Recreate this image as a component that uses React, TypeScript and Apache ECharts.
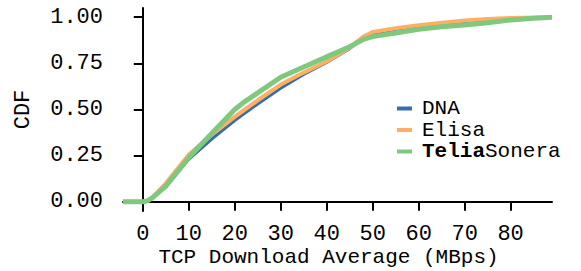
import React, { useEffect, useRef } from "react";
import * as echarts from "echarts";

const seriesNames = ["DNA", "Elisa", "TeliaSonera"];
const seriesColors = ["#386cb0", "#fdb063", "#7fc97f"];
const seriesWidths = [3, 4, 5];

const dnaData: [number, number][] = [
  [-4.3, 0], [0, 0], [1, 0.005], [2, 0.02], [5, 0.08], [10, 0.23], [15, 0.34], [20, 0.44],
  [25, 0.53], [30, 0.615], [35, 0.69], [40, 0.755], [45, 0.83], [48, 0.89], [50, 0.91],
  [55, 0.935], [60, 0.95], [65, 0.96], [70, 0.968], [75, 0.978], [80, 0.99], [85, 0.997], [89, 1],
];
const elisaData: [number, number][] = [
  [-4.3, 0], [0, 0], [1, 0.005], [2, 0.02], [5, 0.1], [10, 0.255], [15, 0.365], [20, 0.46],
  [25, 0.55], [30, 0.635], [35, 0.7], [40, 0.76], [45, 0.835], [48, 0.895], [50, 0.92],
  [55, 0.94], [60, 0.957], [65, 0.97], [70, 0.982], [75, 0.99], [80, 0.996], [89, 1],
];
const teliaData: [number, number][] = [
  [-4.3, 0], [0, 0], [1, 0.005], [2, 0.02], [5, 0.085], [10, 0.24], [15, 0.37], [20, 0.5],
  [22, 0.54], [25, 0.59], [30, 0.675], [35, 0.73], [40, 0.785], [45, 0.84], [48, 0.88],
  [50, 0.895], [55, 0.915], [60, 0.935], [65, 0.948], [70, 0.958], [75, 0.97], [80, 0.985],
  [85, 0.995], [89, 1],
];
const xTicks = [0, 10, 20, 30, 40, 50, 60, 70, 80];
const yTicks = [0, 0.25, 0.5, 0.75, 1];
const xName = "TCP Download Average (MBps)";
const yName = "CDF";

const FONT = "'Liberation Mono', 'DejaVu Sans Mono', monospace";
const FS = 22;
const LFS = 21;

export default function App() {
  const ref = useRef<HTMLDivElement>(null);
  useEffect(() => {
    if (!ref.current) return;
    const chart = echarts.init(ref.current, null, { renderer: "svg" });
    const allData = [dnaData, elisaData, teliaData];
    chart.setOption({
      animation: false,
      backgroundColor: "#ffffff",
      textStyle: { fontFamily: FONT },
      grid: { left: 123, right: 29, top: 8, bottom: 60, containLabel: false, outerBoundsMode: "none" },
      legend: {
        orient: "vertical",
        left: 392,
        top: 93,
        icon: "rect",
        itemWidth: 15,
        itemHeight: 4,
        itemGap: 0.5,
        data: seriesNames,
        formatter: (name: string) =>
          name === "TeliaSonera" ? "{b|Telia}{n|Sonera}" : "{n|" + name + "}",
        textStyle: {
          fontFamily: FONT,
          fontSize: LFS,
          color: "#000",
          lineHeight: 21,
          padding: [0, 0, 0, 5],
          rich: {
            n: { fontFamily: FONT, fontSize: LFS, lineHeight: 21, color: "#000" },
            b: { fontFamily: FONT, fontSize: LFS, lineHeight: 21, color: "#000", fontWeight: "bold" },
          },
        },
      },
      xAxis: {
        type: "value",
        min: -4.3,
        max: 89,
        name: xName,
        nameLocation: "middle",
        nameGap: 35.5,
        nameMoveOverlap: false,
        nameTextStyle: { fontFamily: FONT, fontSize: 21, color: "#000", padding: [0, 18, 0, 0] },
        axisLine: { show: true, lineStyle: { color: "#000", width: 2 } },
        axisTick: { show: true, length: 9, lineStyle: { color: "#000", width: 2 }, customValues: xTicks },
        axisLabel: {
          fontFamily: FONT, fontSize: FS, color: "#000", margin: 12,
          customValues: xTicks, formatter: (v: number) => String(v),
        },
        splitLine: { show: false },
      },
      yAxis: {
        type: "value",
        min: -0.05,
        max: 1.05,
        name: yName,
        nameLocation: "middle",
        nameGap: 89,
        nameRotate: 90,
        nameMoveOverlap: false,
        nameTextStyle: { fontFamily: FONT, fontSize: FS, color: "#000" },
        axisLine: { show: true, lineStyle: { color: "#000", width: 2 } },
        axisTick: { show: true, length: 9, lineStyle: { color: "#000", width: 2 }, customValues: yTicks },
        axisLabel: {
          fontFamily: FONT, fontSize: FS, color: "#000", margin: 20,
          customValues: yTicks, formatter: (v: number) => v.toFixed(2),
        },
        splitLine: { show: false },
      },
      series: seriesNames.map((n, i) => ({
        name: n,
        type: "line",
        data: allData[i],
        showSymbol: false,
        symbol: "none",
        color: seriesColors[i],
        lineStyle: { color: seriesColors[i], width: seriesWidths[i] },
        z: 2 + i,
      })),
    });
    return () => chart.dispose();
  }, []);
  return <div ref={ref} style={{ width: 581, height: 271, position: "absolute", left: 0, top: 0 }} />;
}
